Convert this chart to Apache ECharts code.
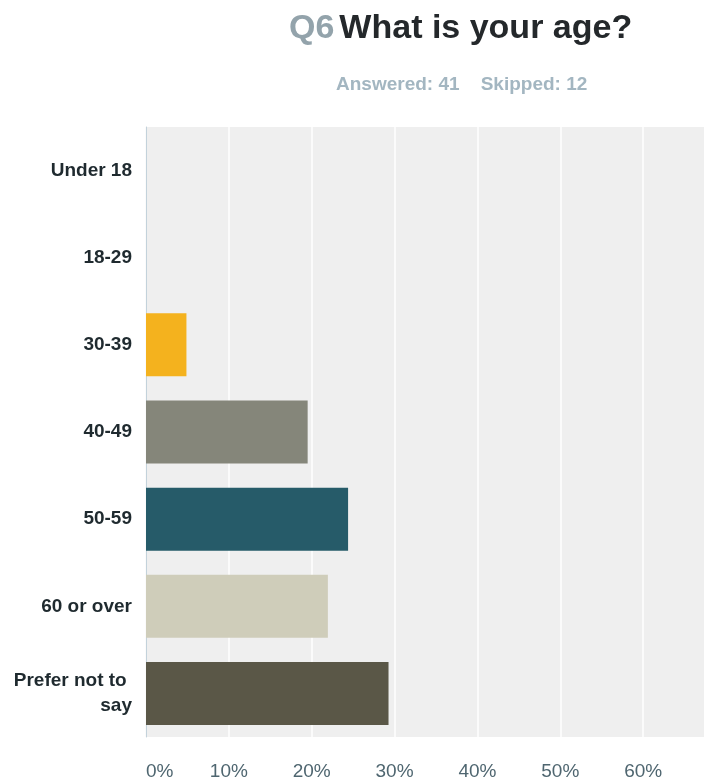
<!DOCTYPE html>
<html>
<head>
<meta charset="utf-8">
<script src="https://cdn.jsdelivr.net/npm/echarts@6/dist/echarts.min.js"></script>
<style>
html, body { margin: 0; padding: 0; background: #fff; }
#graph { width: 704px; height: 782px; }
</style>
</head>
<body>
<div id="graph"></div>
<script>
"use strict"

// answers to Q6, share of the 41 respondents, in %
const categories = ["Under 18", "18-29", "30-39", "40-49", "50-59", "60 or over", "Prefer not to say"];
const percents = [0, 0, 4.88, 19.51, 24.39, 21.95, 29.27];
const barColors = ["#f4b21e", "#f4b21e", "#f4b21e", "#85867a", "#265b69", "#cfcdba", "#5a5747"];
const answered = 41, skipped = 12;

const font = "Arial, 'Liberation Sans', Helvetica, sans-serif";

const myChart = echarts.init(document.getElementById("graph"), null, { renderer: "canvas" });

const option = {
    backgroundColor: "#ffffff",
    animation: false,
    title: [
        {
            text: "{q|Q6} {m|What is your age?}",
            left: 284,
            top: 7,
            textStyle: {
                rich: {
                    q: { fontFamily: font, fontSize: 34, fontWeight: "bold", color: "#93a3ab" },
                    m: { fontFamily: font, fontSize: 34, fontWeight: "bold", color: "#24282b" }
                }
            }
        },
        {
            text: `Answered: ${answered}    Skipped: ${skipped}`,
            left: 331,
            top: 70,
            textStyle: { fontFamily: font, fontSize: 19, fontWeight: "bold", color: "#a3b6c1" }
        }
    ],
    // plot runs past the right edge, like the cropped original
    grid: {
        left: 146,
        width: 580,
        top: 127,
        height: 610,
        show: true,
        backgroundColor: "#efefef",
        borderWidth: 0,
        containLabel: false,
        outerBoundsMode: "none"
    },
    xAxis: {
        type: "value",
        min: 0,
        max: 70,
        interval: 10,
        axisLine: { show: false },
        axisTick: { show: false },
        splitLine: { show: true, lineStyle: { color: "#fbfbfb", width: 2 } },
        axisLabel: {
            formatter: "{value}%",
            margin: 25,
            alignMinLabel: "left",
            fontFamily: font,
            fontSize: 19,
            color: "#4f6670"
        }
    },
    yAxis: {
        type: "category",
        data: categories,
        inverse: true,
        axisLine: { show: true, lineStyle: { color: "#c3d2db", width: 1 } },
        axisTick: { show: false },
        splitLine: { show: false },
        axisLabel: {
            margin: 14,
            width: 125,
            overflow: "break",
            lineHeight: 25,
            fontFamily: font,
            fontSize: 19,
            fontWeight: "bold",
            color: "#1f2a2f"
        }
    },
    series: [{
        type: "bar",
        barWidth: 63,
        data: percents.map((v, i) => ({ value: v, itemStyle: { color: barColors[i] } }))
    }]
};

myChart.setOption(option);
</script>
</body>
</html>
